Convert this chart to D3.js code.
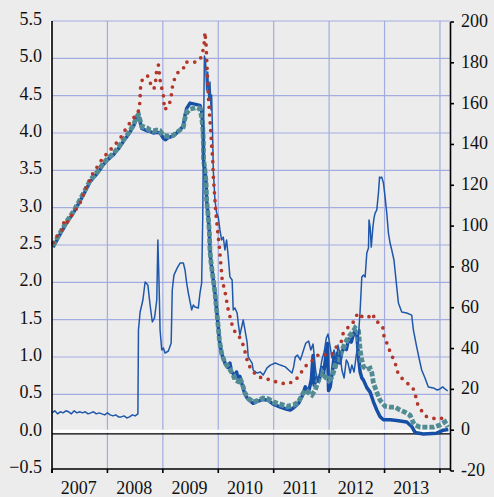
<!DOCTYPE html>
<html>
<head>
<meta charset="utf-8">
<script src="https://cdn.jsdelivr.net/npm/d3@7"></script>
<style>
  html, body { margin: 0; padding: 0; background: #ececec; }
  svg { display: block; font-family: "Liberation Serif", "DejaVu Serif", serif; }
</style>
</head>
<body>
<div id="chart"></div>
<script>
// spread (right axis, bp) - thin blue line
const spread = [
  [2007.00,8.5],[2007.05,9.5],[2007.10,8.0],[2007.15,9.0],[2007.20,8.5],[2007.25,9.5],[2007.30,9.0],[2007.35,8.0],
  [2007.40,9.5],[2007.45,8.5],[2007.50,9.0],[2007.55,8.5],[2007.60,9.0],[2007.65,8.0],[2007.70,8.5],[2007.75,9.0],
  [2007.80,8.0],[2007.85,8.5],[2007.90,8.0],[2007.95,7.5],[2008.00,8.5],[2008.05,7.5],[2008.10,7.0],[2008.15,7.5],
  [2008.20,6.5],[2008.25,6.5],[2008.30,7.0],[2008.35,6.0],[2008.40,6.5],[2008.45,7.5],[2008.50,7.0],[2008.55,8.0],
  [2008.56,49.1],[2008.59,57.9],[2008.64,63.8],[2008.68,72.6],[2008.73,71.1],[2008.77,61.3],[2008.81,53.0],[2008.85,55.0],
  [2008.89,63.8],[2008.91,93.2],[2008.93,73.6],[2008.95,49.1],[2008.98,39.3],[2009.01,40.3],[2009.04,37.8],[2009.10,38.8],
  [2009.15,42.7],[2009.17,68.7],[2009.20,76.0],[2009.26,79.5],[2009.31,81.9],[2009.37,81.9],[2009.40,78.5],[2009.43,72.1],
  [2009.46,67.2],[2009.52,58.9],[2009.55,61.3],[2009.58,60.4],[2009.64,59.9],[2009.67,67.2],[2009.70,72.1],[2009.72,104.4],
  [2009.73,134.8],[2009.75,183.3],[2009.77,181.4],[2009.79,166.7],[2009.81,175.5],[2009.83,161.8],[2009.85,170.6],[2009.87,156.9],
  [2009.88,164.2],[2009.90,142.2],[2009.91,127.5],[2009.94,112.8],[2009.97,106.4],[2010.00,104.4],[2010.03,98.1],[2010.06,93.2],
  [2010.09,94.6],[2010.12,88.3],[2010.15,93.2],[2010.18,84.9],[2010.21,75.1],[2010.25,73.6],[2010.27,58.9],[2010.30,59.9],
  [2010.34,57.4],[2010.36,52.5],[2010.39,46.6],[2010.45,54.0],[2010.52,43.2],[2010.54,35.9],[2010.61,32.9],[2010.63,29.5],
  [2010.70,28.0],[2010.76,28.5],[2010.81,27.0],[2010.88,30.5],[2010.94,31.9],[2011.03,32.9],[2011.12,31.9],[2011.21,31.0],
  [2011.27,29.5],[2011.33,28.0],[2011.36,31.0],[2011.39,35.9],[2011.43,36.8],[2011.48,34.4],[2011.51,36.8],[2011.55,40.3],
  [2011.58,42.7],[2011.63,43.7],[2011.67,39.3],[2011.71,42.2],[2011.76,28.5],[2011.80,23.6],[2011.84,29.5],[2011.87,34.4],
  [2011.91,38.3],[2011.95,45.2],[2011.98,47.1],[2012.02,40.8],[2012.05,35.4],[2012.09,39.3],[2012.13,33.4],[2012.16,41.7],
  [2012.20,36.8],[2012.23,29.5],[2012.27,25.6],[2012.31,34.4],[2012.34,32.9],[2012.38,28.0],[2012.41,31.9],[2012.45,28.5],
  [2012.49,36.8],[2012.52,41.7],[2012.56,58.9],[2012.59,75.1],[2012.62,76.0],[2012.65,75.1],[2012.68,86.8],[2012.71,89.3],
  [2012.72,103.0],[2012.74,99.5],[2012.76,89.7],[2012.79,99.5],[2012.81,104.0],[2012.83,106.4],[2012.86,107.9],[2012.89,116.2],
  [2012.91,124.0],[2012.93,123.6],[2012.95,124.0],[2012.98,121.1],[2013.01,114.2],[2013.04,106.4],[2013.07,96.6],[2013.10,91.7],
  [2013.13,88.3],[2013.17,83.4],[2013.22,70.2],[2013.25,62.3],[2013.31,57.9],[2013.40,57.4],[2013.49,56.4],[2013.52,49.1],
  [2013.58,40.8],[2013.63,34.4],[2013.67,29.5],[2013.73,25.6],[2013.79,21.2],[2013.88,20.7],[2013.95,19.7],[2014.00,20.2],
  [2014.05,21.2],[2014.09,20.2],[2014.14,19.2]
];

// long rate (left axis, %) - red dotted line
const longRate = [
  [2007.02,2.53],[2007.09,2.62],[2007.18,2.70],[2007.21,2.80],[2007.26,2.76],[2007.30,2.85],[2007.38,2.92],[2007.41,2.95],
  [2007.51,3.07],[2007.60,3.24],[2007.68,3.37],[2007.75,3.48],[2007.82,3.55],[2007.87,3.61],[2007.94,3.69],[2008.01,3.73],
  [2008.09,3.81],[2008.18,3.88],[2008.25,3.95],[2008.32,4.04],[2008.39,4.12],[2008.47,4.20],[2008.55,4.27],[2008.58,4.37],
  [2008.59,4.48],[2008.595,4.59],[2008.62,4.70],[2008.67,4.74],[2008.72,4.77],[2008.75,4.73],[2008.79,4.63],[2008.84,4.59],
  [2008.87,4.70],[2008.88,4.80],[2008.92,4.91],[2008.95,4.71],[2008.98,4.60],[2009.01,4.50],[2009.02,4.40],[2009.04,4.31],
  [2009.07,4.35],[2009.10,4.36],[2009.14,4.44],[2009.16,4.54],[2009.18,4.66],[2009.22,4.74],[2009.28,4.82],[2009.37,4.86],
  [2009.40,4.95],[2009.49,4.95],[2009.61,4.95],[2009.70,5.02],[2009.73,5.13],[2009.75,5.23],[2009.76,5.35],[2009.78,5.18],
  [2009.80,4.84],[2009.82,4.51],[2009.84,4.28],[2009.86,4.08],[2009.88,3.84],[2009.90,3.64],[2009.91,3.42],[2009.93,3.21],
  [2009.96,2.90],[2010.02,2.47],[2010.07,2.04],[2010.13,1.84],[2010.18,1.63],[2010.25,1.43],[2010.30,1.34],[2010.38,1.27],
  [2010.45,1.16],[2010.49,1.05],[2010.52,0.96],[2010.56,0.88],[2010.63,0.80],[2010.74,0.73],[2010.86,0.71],[2010.99,0.68],
  [2011.12,0.65],[2011.24,0.64],[2011.35,0.67],[2011.44,0.73],[2011.51,0.81],[2011.59,0.89],[2011.71,0.96],[2011.82,1.04],
  [2011.93,1.03],[2012.05,1.03],[2012.09,1.08],[2012.14,1.15],[2012.22,1.21],[2012.25,1.31],[2012.33,1.39],[2012.41,1.43],
  [2012.47,1.52],[2012.52,1.59],[2012.61,1.53],[2012.70,1.53],[2012.79,1.58],[2012.83,1.48],[2012.90,1.46],[2012.97,1.39],
  [2012.99,1.28],[2013.04,1.19],[2013.10,1.07],[2013.15,0.99],[2013.21,0.88],[2013.24,0.79],[2013.32,0.71],[2013.41,0.65],
  [2013.51,0.59],[2013.56,0.48],[2013.59,0.38],[2013.66,0.29],[2013.73,0.21],[2013.86,0.18],[2014.00,0.17],[2014.13,0.21]
];

// short rate A (left axis, %) - teal dashed line
const shortRateA = [
  [2007.02,2.49],[2007.15,2.67],[2007.26,2.81],[2007.37,2.93],[2007.47,3.06],[2007.58,3.21],[2007.69,3.37],[2007.84,3.50],
  [2007.93,3.60],[2008.02,3.67],[2008.11,3.73],[2008.20,3.81],[2008.29,3.91],[2008.38,4.00],[2008.47,4.11],[2008.53,4.22],
  [2008.56,4.25],[2008.62,4.09],[2008.71,4.07],[2008.77,4.04],[2008.83,4.03],[2008.89,4.04],[2008.95,4.03],[2009.01,3.97],
  [2009.10,3.96],[2009.19,3.97],[2009.31,4.04],[2009.37,4.08],[2009.40,4.20],[2009.43,4.27],[2009.49,4.32],[2009.61,4.34],
  [2009.67,4.32],[2009.70,4.21],[2009.72,4.08],[2009.73,3.91],[2009.735,3.64],[2009.76,3.50],[2009.78,3.33],[2009.79,3.10],
  [2009.82,2.87],[2009.84,2.66],[2009.85,2.43],[2009.87,2.26],[2009.91,2.03],[2009.94,1.86],[2009.97,1.63],[2010.00,1.40],
  [2010.02,1.23],[2010.06,1.05],[2010.12,0.92],[2010.21,0.83],[2010.27,0.76],[2010.30,0.69],[2010.36,0.67],[2010.39,0.72],
  [2010.43,0.65],[2010.48,0.52],[2010.54,0.45],[2010.63,0.40],[2010.72,0.42],[2010.81,0.45],[2010.90,0.44],[2010.99,0.40],
  [2011.12,0.37],[2011.24,0.34],[2011.36,0.36],[2011.45,0.40],[2011.51,0.49],[2011.57,0.56],[2011.63,0.52],[2011.69,0.49],
  [2011.75,0.56],[2011.81,0.69],[2011.87,0.79],[2011.93,0.73],[2011.99,0.69],[2012.05,0.73],[2012.11,0.87],[2012.17,0.99],
  [2012.23,1.09],[2012.29,1.19],[2012.35,1.27],[2012.44,1.35],[2012.47,1.39],[2012.53,1.35],[2012.56,1.09],[2012.59,0.96],
  [2012.62,0.87],[2012.68,0.83],[2012.74,0.85],[2012.77,0.79],[2012.80,0.65],[2012.86,0.53],[2012.92,0.42],[2013.01,0.34],
  [2013.10,0.33],[2013.19,0.33],[2013.28,0.29],[2013.37,0.26],[2013.46,0.22],[2013.52,0.12],[2013.55,0.09],[2013.64,0.06],
  [2013.76,0.06],[2013.88,0.06],[2014.00,0.09],[2014.09,0.13],[2014.14,0.06]
];

// short rate B (left axis, %) - thick blue line
const shortRateB = [
  [2007.02,2.47],[2007.15,2.65],[2007.26,2.79],[2007.37,2.91],[2007.47,3.04],[2007.58,3.19],[2007.69,3.35],[2007.84,3.48],
  [2007.93,3.58],[2008.02,3.65],[2008.11,3.71],[2008.20,3.79],[2008.29,3.89],[2008.38,3.98],[2008.47,4.09],[2008.53,4.20],
  [2008.56,4.24],[2008.62,4.06],[2008.71,4.03],[2008.77,4.02],[2008.83,4.00],[2008.89,4.01],[2008.95,4.00],[2009.01,3.93],
  [2009.05,3.91],[2009.10,3.94],[2009.19,3.96],[2009.31,4.04],[2009.37,4.10],[2009.40,4.24],[2009.43,4.33],[2009.49,4.40],
  [2009.61,4.38],[2009.67,4.37],[2009.70,4.30],[2009.72,4.10],[2009.73,3.90],[2009.735,3.64],[2009.76,3.50],[2009.78,3.33],
  [2009.79,3.10],[2009.82,2.87],[2009.84,2.66],[2009.85,2.43],[2009.87,2.26],[2009.91,2.03],[2009.94,1.86],[2009.97,1.63],
  [2010.00,1.40],[2010.02,1.23],[2010.06,1.05],[2010.12,0.92],[2010.17,0.86],[2010.21,0.92],[2010.24,0.80],[2010.27,0.78],
  [2010.30,0.72],[2010.33,0.80],[2010.36,0.68],[2010.39,0.74],[2010.43,0.63],[2010.48,0.50],[2010.54,0.43],[2010.63,0.38],
  [2010.72,0.41],[2010.81,0.43],[2010.90,0.42],[2010.99,0.37],[2011.12,0.33],[2011.24,0.30],[2011.30,0.29],[2011.36,0.32],
  [2011.45,0.38],[2011.51,0.47],[2011.57,0.60],[2011.63,0.53],[2011.68,0.70],[2011.71,1.02],[2011.73,0.62],[2011.78,0.72],
  [2011.82,0.68],[2011.87,0.86],[2011.90,0.78],[2011.94,1.00],[2011.97,1.18],[2011.99,0.55],[2012.02,0.60],[2012.06,0.82],
  [2012.09,1.00],[2012.12,0.86],[2012.15,1.05],[2012.19,0.92],[2012.23,1.06],[2012.27,1.14],[2012.31,1.10],[2012.35,1.24],
  [2012.40,1.20],[2012.44,1.31],[2012.47,1.36],[2012.50,1.30],[2012.53,1.00],[2012.56,0.80],[2012.59,0.72],[2012.62,0.69],
  [2012.68,0.59],[2012.74,0.53],[2012.80,0.40],[2012.86,0.29],[2012.92,0.20],[2012.98,0.16],[2013.10,0.16],[2013.22,0.15],
  [2013.40,0.13],[2013.49,0.07],[2013.55,-0.01],[2013.70,-0.03],[2013.94,-0.02],[2014.06,0.02],[2014.15,0.03]
];

const leftTicks = [-0.5, 0, 0.5, 1, 1.5, 2, 2.5, 3, 3.5, 4, 4.5, 5, 5.5];
const rightTicks = [-20, 0, 20, 40, 60, 80, 100, 120, 140, 160, 180, 200];
const yearTicks = [2007, 2008, 2009, 2010, 2011, 2012, 2013, 2014];
const yearLabels = ["2007", "2008", "2009", "2010", "2011", "2012", "2013"];

const width = 494, height = 497;
const plotLeft = 52, plotRight = 450.5, plotTop = 21, plotBottom = 469;

const svg = d3.select("#chart").append("svg")
  .attr("width", width)
  .attr("height", height);

svg.append("rect").attr("width", width).attr("height", height).attr("fill", "#ececec");

const x = d3.scaleLinear().domain([2007, 2014.19]).range([plotLeft, plotRight]);
const yL = d3.scaleLinear().domain([-0.5, 5.5]).range([plotBottom, plotTop]);
const yR = d3.scaleLinear().domain([-20, 200]).range([471, 22]);

const gridColor = "#a3acdf";

// grid
svg.append("g")
  .selectAll("line")
  .data(leftTicks.filter(t => t > 0))
  .join("line")
  .attr("x1", plotLeft).attr("x2", plotRight)
  .attr("y1", d => yL(d)).attr("y2", d => yL(d))
  .attr("stroke", gridColor).attr("stroke-width", 1.2);

svg.append("g")
  .selectAll("line")
  .data(yearTicks.slice(1))
  .join("line")
  .attr("x1", d => x(d)).attr("x2", d => x(d))
  .attr("y1", plotTop).attr("y2", plotBottom)
  .attr("stroke", gridColor).attr("stroke-width", 1.2);

// zero line (white band + black line)
svg.append("line")
  .attr("x1", plotLeft).attr("x2", plotRight)
  .attr("y1", yL(0) - 0.5).attr("y2", yL(0) - 0.5)
  .attr("stroke", "#fff").attr("stroke-width", 3);
svg.append("line")
  .attr("x1", plotLeft).attr("x2", plotRight)
  .attr("y1", yL(0) + 2.3).attr("y2", yL(0) + 2.3)
  .attr("stroke", "#000").attr("stroke-width", 1.3);

// series
const lineL = d3.line().x(d => x(d[0])).y(d => yL(d[1]));
const lineR = d3.line().x(d => x(d[0])).y(d => yR(d[1]));

svg.append("path").datum(shortRateB)
  .attr("d", lineL)
  .attr("fill", "none")
  .attr("stroke", "#1550a6")
  .attr("stroke-width", 3.5)
  .attr("stroke-linejoin", "round");

svg.append("path").datum(shortRateA)
  .attr("d", lineL)
  .attr("fill", "none")
  .attr("stroke", "#f4f4f4")
  .attr("stroke-opacity", 0.3)
  .attr("stroke-width", 6)
  .attr("stroke-dasharray", "5,2");

svg.append("path").datum(shortRateA)
  .attr("d", lineL)
  .attr("fill", "none")
  .attr("stroke", "#528c93")
  .attr("stroke-width", 4.8)
  .attr("stroke-dasharray", "5,2");

svg.append("path").datum(spread)
  .attr("d", lineR)
  .attr("fill", "none")
  .attr("stroke", "#1f58ab")
  .attr("stroke-width", 1.5)
  .attr("stroke-linejoin", "round");

svg.append("path").datum(longRate)
  .attr("d", lineL)
  .attr("fill", "none")
  .attr("stroke", "#b2362a")
  .attr("stroke-width", 3.7)
  .attr("stroke-linecap", "round")
  .attr("stroke-dasharray", "0,7.8");

// axes
const axisColor = "#000";

// left axis
svg.append("line")
  .attr("x1", plotLeft - 1.5).attr("x2", plotLeft - 1.5)
  .attr("y1", plotTop).attr("y2", plotBottom)
  .attr("stroke", "#fff").attr("stroke-width", 1);
svg.append("line")
  .attr("x1", plotLeft).attr("x2", plotLeft)
  .attr("y1", plotTop).attr("y2", plotBottom + 4)
  .attr("stroke", axisColor).attr("stroke-width", 1.6);

svg.append("g")
  .selectAll("text")
  .data(leftTicks)
  .join("text")
  .attr("x", 42)
  .attr("y", d => yL(d) + 4)
  .attr("text-anchor", "end")
  .attr("font-size", 18)
  .attr("fill", "#111")
  .text(d => d3.format(".1f")(d));

// right axis
svg.append("line")
  .attr("x1", plotRight).attr("x2", plotRight)
  .attr("y1", yR(200)).attr("y2", yR(-20))
  .attr("stroke", axisColor).attr("stroke-width", 1.6);

svg.append("g")
  .selectAll("line")
  .data(rightTicks)
  .join("line")
  .attr("x1", plotRight).attr("x2", plotRight + 3.5)
  .attr("y1", d => yR(d)).attr("y2", d => yR(d))
  .attr("stroke", axisColor).attr("stroke-width", 1.6);

svg.append("g")
  .selectAll("text")
  .data(rightTicks)
  .join("text")
  .attr("x", 461)
  .attr("y", d => yR(d) + 5)
  .attr("text-anchor", "start")
  .attr("font-size", 18)
  .attr("fill", "#111")
  .text(d => d);

// bottom axis
svg.append("line")
  .attr("x1", plotLeft).attr("x2", plotRight)
  .attr("y1", plotBottom).attr("y2", plotBottom)
  .attr("stroke", axisColor).attr("stroke-width", 1.6);

svg.append("g")
  .selectAll("line")
  .data(yearTicks)
  .join("line")
  .attr("x1", d => x(d)).attr("x2", d => x(d))
  .attr("y1", plotBottom).attr("y2", plotBottom + 4)
  .attr("stroke", axisColor).attr("stroke-width", 1.6);

svg.append("g")
  .selectAll("text")
  .data(yearLabels)
  .join("text")
  .attr("x", d => x(+d + 0.5) - 1)
  .attr("y", 494)
  .attr("text-anchor", "middle")
  .attr("font-size", 18)
  .attr("fill", "#111")
  .text(d => d);
</script>
</body>
</html>
